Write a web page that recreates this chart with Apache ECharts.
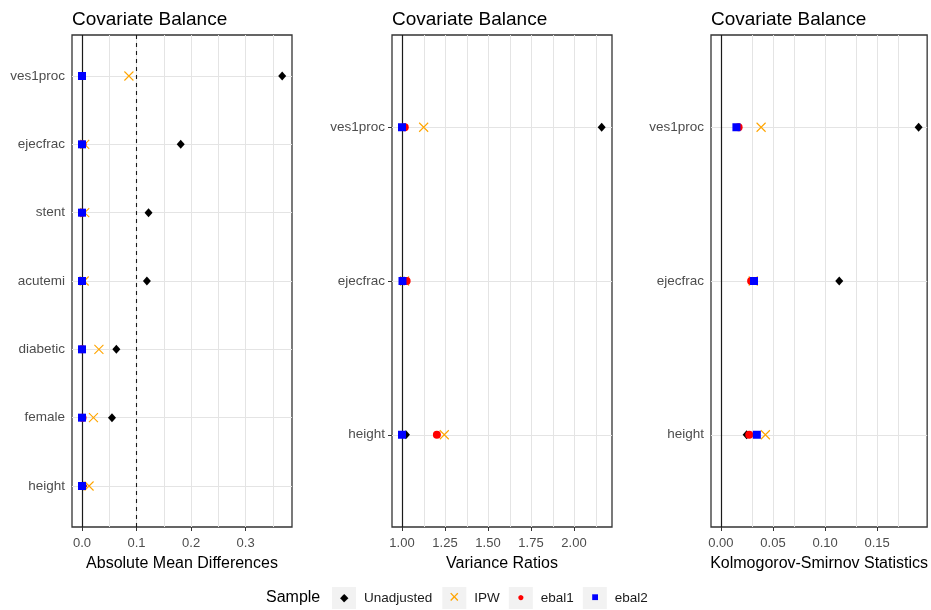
<!DOCTYPE html>
<html><head><meta charset="utf-8">
<script src="https://cdn.jsdelivr.net/npm/echarts@6/dist/echarts.min.js"></script>
<style>html,body{margin:0;padding:0;background:#fff}#c{width:931px;height:610px}</style>
</head><body><div id="c"></div>
<script>
const sampleNames = ['Unadjusted', 'IPW', 'ebal1', 'ebal2'];
const panelTitle = 'Covariate Balance';

// Panel 1: Absolute Mean Differences
const amdCategories = ['height', 'female', 'diabetic', 'acutemi', 'stent', 'ejecfrac', 'ves1proc'];
const amdUnadjusted = [0.002, 0.055, 0.063, 0.119, 0.122, 0.181, 0.367];
const amdIPW        = [0.013, 0.021, 0.031, 0.004, 0.005, 0.005, 0.086];
const amdEbal1      = [0.001, 0.001, 0.000, 0.000, 0.000, 0.001, 0.000];
const amdEbal2      = [0.000, 0.000, 0.000, 0.000, 0.000, 0.000, 0.000];
const amdTicks = [0, 0.1, 0.2, 0.3];
const amdMinorTicks = [0.05, 0.15, 0.25, 0.35];
const amdThreshold = 0.1;

// Panel 2: Variance Ratios
const vrCategories = ['height', 'ejecfrac', 'ves1proc'];
const vrUnadjusted = [1.023, 1.012, 2.161];
const vrIPW        = [1.246, 1.015, 1.126];
const vrEbal1      = [1.203, 1.027, 1.016];
const vrEbal2      = [1.000, 1.003, 1.000];
const vrTicks = [1.00, 1.25, 1.50, 1.75, 2.00];
const vrMinorTicks = [1.125, 1.375, 1.625, 1.875, 2.125];

// Panel 3: Kolmogorov-Smirnov Statistics
const ksCategories = ['height', 'ejecfrac', 'ves1proc'];
const ksUnadjusted = [0.0247, 0.1136, 0.1898];
const ksIPW        = [0.0427, 0.0310, 0.0386];
const ksEbal1      = [0.0272, 0.0290, 0.0170];
const ksEbal2      = [0.0345, 0.0318, 0.0149];
const ksTicks = [0.00, 0.05, 0.10, 0.15];
const ksMinorTicks = [0.025, 0.075, 0.125, 0.175];

const FONT = 'Liberation Sans, Arial, sans-serif';

const panels = [
  {cats: amdCategories, vals: [amdUnadjusted, amdIPW, amdEbal1, amdEbal2], ticks: amdTicks, minor: amdMinorTicks,
   ref: 0, dashed: [amdThreshold], xName: 'Absolute Mean Differences', min: -0.0183, max: 0.385, digits: 1, left: 72, width: 220},
  {cats: vrCategories, vals: [vrUnadjusted, vrIPW, vrEbal1, vrEbal2], ticks: vrTicks, minor: vrMinorTicks,
   ref: 1, dashed: [], xName: 'Variance Ratios', min: 0.942, max: 2.221, digits: 2, left: 392, width: 220},
  {cats: ksCategories, vals: [ksUnadjusted, ksIPW, ksEbal1, ksEbal2], ticks: ksTicks, minor: ksMinorTicks,
   ref: 0, dashed: [], xName: 'Kolmogorov-Smirnov Statistics', min: -0.0095, max: 0.198, digits: 2, left: 711, width: 219}
];

const symbolStyles = [
  {symbol: 'diamond', symbolSize: [8, 9], itemStyle: {color: '#000000', opacity: 1}},
  {symbol: 'path://M0,0L10,10M10,0L0,10', symbolSize: 9, itemStyle: {color: 'rgba(0,0,0,0)', borderColor: '#FFA500', borderWidth: 1.1, opacity: 1}},
  {symbol: 'circle', symbolSize: 8, itemStyle: {color: '#FF0000', opacity: 1}},
  {symbol: 'rect', symbolSize: 8, itemStyle: {color: '#0000FF', opacity: 1}}
];

const grids = [], xAxes = [], yAxes = [], series = [], titles = [];
panels.forEach((p, i) => {
  grids.push({left: p.left, top: 35, width: p.width, height: 492, show: true, z: 0,
    borderColor: '#333333', borderWidth: 1.3, backgroundColor: 'transparent', containLabel: false});
  titles.push({text: panelTitle, left: p.left, top: 10, padding: 0,
    textStyle: {fontFamily: FONT, fontSize: 19, fontWeight: 'normal', color: '#000'}});
  const catIdx = p.cats.map((c, j) => j + 1);
  xAxes.push({type: 'value', gridIndex: i, min: p.min, max: p.max,
    splitLine: {show: false}, axisLine: {show: false},
    axisTick: {show: true, length: 4, customValues: p.ticks, lineStyle: {color: '#333333', width: 1}},
    axisLabel: {customValues: p.ticks, formatter: v => Number(v).toFixed(p.digits), color: '#4d4d4d',
      fontSize: 13, fontFamily: FONT, margin: 10},
    name: p.xName, nameLocation: 'middle', nameGap: 29,
    nameTextStyle: {color: '#000', fontSize: 16, fontFamily: FONT}});
  yAxes.push({type: 'value', gridIndex: i, min: 0.4, max: p.cats.length + 0.6,
    splitLine: {show: false}, axisLine: {show: false},
    axisTick: {show: true, length: 4, customValues: catIdx, lineStyle: {color: '#333333', width: 1}},
    axisLabel: {customValues: catIdx, formatter: v => p.cats[Math.round(v) - 1] || '', color: '#4d4d4d',
      fontSize: 13.5, fontFamily: FONT, margin: 7}});
  // gridlines
  series.push({type: 'scatter', name: '_grid' + i, xAxisIndex: i, yAxisIndex: i, data: [], silent: true, z: 1,
    markLine: {z: 1, silent: true, symbol: ['none', 'none'], label: {show: false}, animation: false,
      emphasis: {disabled: true},
      lineStyle: {color: '#e4e4e4', width: 1, type: 'solid', opacity: 1},
      data: p.ticks.concat(p.minor).filter(v => v !== p.ref).map(v => ({xAxis: v}))
        .concat(catIdx.map(v => ({yAxis: v})))}});
  // reference lines
  series.push({type: 'scatter', name: '_ref' + i, xAxisIndex: i, yAxisIndex: i, data: [], silent: true, z: 2,
    markLine: {z: 2, silent: true, symbol: ['none', 'none'], label: {show: false}, animation: false,
      emphasis: {disabled: true},
      lineStyle: {color: '#1a1a1a', width: 1.2, type: 'solid', opacity: 1},
      data: [{xAxis: p.ref}].concat(p.dashed.map(v => ({xAxis: v, lineStyle: {type: [4, 4], color: '#1a1a1a', width: 1.1}})))}});
  p.vals.forEach((vals, k) => {
    series.push(Object.assign({type: 'scatter', name: sampleNames[k], xAxisIndex: i, yAxisIndex: i, z: 10,
      data: vals.map((v, j) => [v, j + 1]), emphasis: {disabled: true}, silent: true}, symbolStyles[k]));
  });
});

titles.push({text: 'Sample', left: 266, top: 590, padding: 0,
  textStyle: {fontFamily: FONT, fontSize: 16, fontWeight: 'normal', color: '#000'}});

const legendGlyph = {Unadjusted: ['ku', '\u25C6'], IPW: ['ki', '\u00D7'], ebal1: ['k1', '\u25CF'], ebal2: ['k2', '\u25A0']};
const boxStyle = {backgroundColor: '#f2f2f2', width: 24, height: 22, lineHeight: 22, align: 'center'};

const option = {
  animation: false,
  backgroundColor: '#ffffff',
  title: titles,
  grid: grids, xAxis: xAxes, yAxis: yAxes, series: series,
  legend: {data: sampleNames, left: 327, top: 587, padding: 0, itemGap: 4, itemWidth: 0, itemHeight: 0,
    selectedMode: false,
    formatter: name => '{' + legendGlyph[name][0] + '|' + legendGlyph[name][1] + '}{t|' + name + '}',
    textStyle: {fontFamily: FONT, rich: {
      ku: Object.assign({color: '#000', fontSize: 11}, boxStyle),
      ki: Object.assign({color: '#FFA500', fontSize: 18}, boxStyle),
      k1: Object.assign({color: '#FF0000', fontSize: 12}, boxStyle),
      k2: Object.assign({color: '#0000FF', fontSize: 12}, boxStyle),
      t: {color: '#1a1a1a', fontSize: 13.5, fontFamily: FONT, padding: [0, 0, 0, 8]}
    }}}
};

const chart = echarts.init(document.getElementById('c'), null, {renderer: 'canvas'});
chart.setOption(option);
</script></body></html>
